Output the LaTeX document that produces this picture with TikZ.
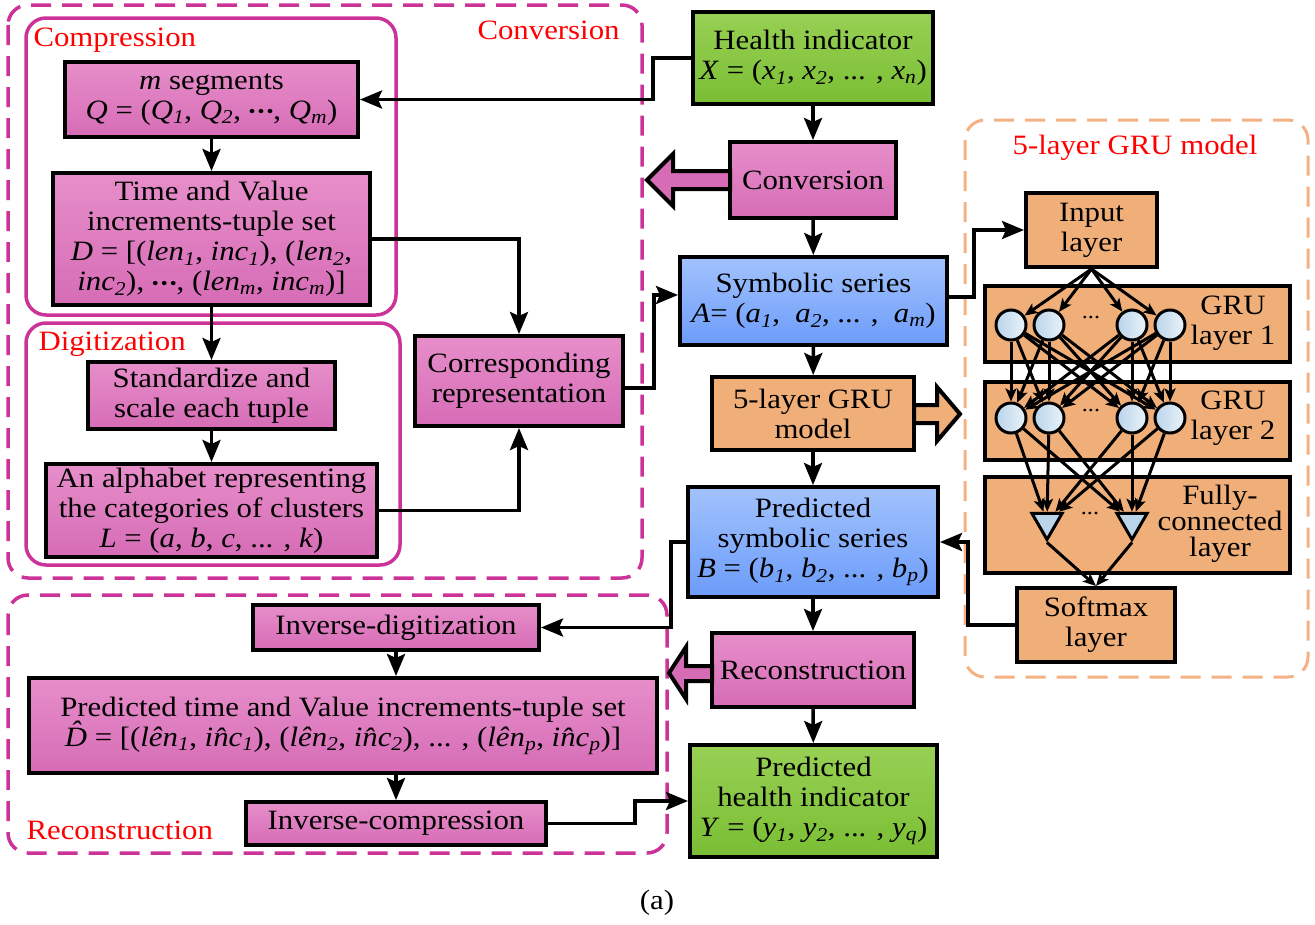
\documentclass[tikz,border=0pt]{standalone}
\usepackage{fontspec}
\setmainfont[FakeStretch=1.1]{Liberation Serif}
\usepackage{tikz}
\usetikzlibrary{arrows.meta}
\usetikzlibrary{shapes.geometric}
\definecolor{magdash}{RGB}{204,51,153}
\definecolor{pinkT}{RGB}{231,142,202}
\definecolor{pinkB}{RGB}{214,108,182}
\definecolor{greenT}{RGB}{152,208,84}
\definecolor{greenB}{RGB}{122,190,52}
\definecolor{blueT}{RGB}{162,194,252}
\definecolor{blueB}{RGB}{108,156,250}
\definecolor{gruorange}{RGB}{240,174,120}
\definecolor{orangedash}{RGB}{244,177,131}
\definecolor{neuronL}{RGB}{186,212,234}
\definecolor{neuronR}{RGB}{234,243,250}
\newcommand{\isub}[2]{\textit{#1}\textsubscript{\textit{#2}}}
\newcommand{\bdots}{\raisebox{0.12ex}{\fontsize{18}{18}\selectfont\textbullet\kern2pt\textbullet\kern2pt\textbullet}}
\newcommand{\hatD}{\ooalign{\textit{D}\cr\hidewidth\raisebox{0.2em}{\textit{\char"02C6}}\hidewidth\cr}}

\begin{document}
\begin{tikzpicture}[x=1pt,y=-1pt,
    every node/.style={font=\fontsize{28}{30}\selectfont},
    box/.style={draw,line width=4pt,align=center,inner sep=0pt},
    pinkbox/.style={box,top color=pinkT,bottom color=pinkB},
    greenbox/.style={box,top color=greenT,bottom color=greenB},
    bluebox/.style={box,top color=blueT,bottom color=blueB},
    orangebox/.style={box,fill=gruorange},
    arr/.style={line width=3.5pt,-{Stealth[length=22pt,width=18pt,inset=4pt]}},
    netarr/.style={line width=3pt,-{Stealth[length=13pt,width=11pt,inset=3pt]}},
    groupdash/.style={magdash,line width=3.5pt,dash pattern=on 20pt off 11pt,rounded corners=20pt},
    groupline/.style={magdash,line width=3.5pt,rounded corners=20pt},
    grouplabel/.style={red,anchor=west},
    neuron/.style={circle,draw,line width=3pt,minimum size=30pt,inner sep=0pt,left color=neuronL,right color=neuronR},
    outnode/.style={regular polygon,regular polygon sides=3,shape border rotate=180,draw,line width=3pt,minimum size=35pt,inner sep=0pt,fill=neuronL},
    fatarrow/.style={draw,line width=4pt,line join=miter}]
    \useasboundingbox (0,0) rectangle (1315,924);
    \draw[groupdash] (8,5) rectangle (642,578);
    \draw[groupdash] (8,595) rectangle (667,853);
    \draw[groupline] (26,18) rectangle (396,315);
    \draw[groupline] (26,323) rectangle (400,565);
    \draw[orangedash,line width=3pt,dash pattern=on 20pt off 11pt,rounded corners=20pt] (965,120) rectangle (1308,677);
    \node[grouplabel] (lconv) at (474,30) {Conversion};
    \node[grouplabel] (lcomp) at (30,40) {Compression};
    \node[grouplabel] (ldig) at (35,344) {Digitization};
    \node[grouplabel] (lrec) at (23,830) {Reconstruction};
    \node[red] (lgru) at (1135,148) {5-layer GRU model};

    \node[pinkbox,minimum width=293pt,minimum height=75pt] (mseg) at (211.5,99.5) {\textit{m} segments\\ \textit{Q} = (\isub{Q}{1}, \isub{Q}{2}, \bdots, \isub{Q}{m})};
    \node[pinkbox,minimum width=317pt,minimum height=132pt] (tvset) at (211.5,239) {Time and Value\\ increments-tuple set\\ \textit{D} = [(\isub{len}{1}, \isub{inc}{1}), (\isub{len}{2},\\ \isub{inc}{2}), \bdots, (\isub{len}{m}, \isub{inc}{m})]};
    \node[pinkbox,minimum width=247pt,minimum height=67pt] (stdz) at (211.5,395.5) {Standardize and\\ scale each tuple};
    \node[pinkbox,minimum width=331pt,minimum height=93pt] (alpha) at (211.5,510.5) {An alphabet representing\\ the categories of clusters\\ \textit{L} = (\textit{a}, \textit{b}, \textit{c}, ... , \textit{k})};
    \node[pinkbox,minimum width=208pt,minimum height=90pt] (corr) at (519,381) {Corresponding\\ representation};

    \node[greenbox,minimum width=240pt,minimum height=92pt] (health) at (813,58) {Health indicator\\ \textit{X} = (\isub{x}{1}, \isub{x}{2}, ... , \isub{x}{n})};
    \node[pinkbox,minimum width=166pt,minimum height=76pt] (conv) at (813,180) {Conversion};
    \node[bluebox,minimum width=267pt,minimum height=88pt] (sym) at (813.5,301) {Symbolic series\\ \textit{A}= (\isub{a}{1},~ \isub{a}{2}, ... ,~ \isub{a}{m})};
    \node[orangebox,minimum width=202pt,minimum height=73pt] (gru) at (813,413.5) {5-layer GRU\\ model};
    \node[bluebox,minimum width=250pt,minimum height=110pt] (psym) at (813,542) {Predicted\\ symbolic series\\ \textit{B} = (\isub{b}{1}, \isub{b}{2}, ... , \isub{b}{p})};
    \node[pinkbox,minimum width=202pt,minimum height=74pt] (recon) at (813,670) {Reconstruction};
    \node[greenbox,minimum width=247pt,minimum height=112pt] (phealth) at (813.5,801) {Predicted\\ health indicator\\ \textit{Y} = (\isub{y}{1}, \isub{y}{2}, ... , \isub{y}{q})};

    \node[pinkbox,minimum width=286pt,minimum height=45pt] (invd) at (396,627.5) {Inverse-digitization};
    \node[pinkbox,minimum width=628pt,minimum height=95pt] (ptset) at (343,725.5) {Predicted time and Value increments-tuple set\\ \hatD{} = [(\isub{l\^{e}n}{1}, \isub{i\^{n}c}{1}), (\isub{l\^{e}n}{2}, \isub{i\^{n}c}{2}), ... , (\isub{l\^{e}n}{p}, \isub{i\^{n}c}{p})]};
    \node[pinkbox,minimum width=300pt,minimum height=43pt] (invc) at (396,823.5) {Inverse-compression};

    \node[orangebox,minimum width=131pt,minimum height=74pt] (input) at (1091.5,230) {Input\\ layer};
    \node[orangebox,minimum width=305pt,minimum height=76pt] (gruA) at (1137.5,324) {};
    \node[orangebox,minimum width=305pt,minimum height=78pt] (gruB) at (1137.5,421) {};
    \node[orangebox,minimum width=305pt,minimum height=96pt] (fcl) at (1137.5,525) {};
    \node[orangebox,minimum width=158pt,minimum height=74pt] (softmax) at (1096,625) {Softmax\\ layer};
    \node[align=center] (tgruA) at (1233,323) {GRU\\ layer 1};
    \node[align=center] (tgruB) at (1233,418) {GRU\\ layer 2};
    \node[align=center,font=\fontsize{28}{26}\selectfont] (tfcl) at (1220,524) {Fully-\\ connected\\ layer};
    \foreach \i/\x in {1/1011,2/1049,3/1132,4/1170} {
        \node[neuron] (a\i) at (\x,325) {};
        \node[neuron] (b\i) at (\x,418) {};
    }
    \node[outnode] (o1) at (1047,522) {};
    \node[outnode] (o2) at (1132,522) {};
    \node[font=\fontsize{22}{22}\selectfont] (dotsA) at (1091,318) {...};
    \node[font=\fontsize{22}{22}\selectfont] (dotsB) at (1091,411) {...};
    \node[font=\fontsize{22}{22}\selectfont] (dotsC) at (1090,514) {...};
    \foreach \i in {1,...,4} {
        \draw[netarr] (input.south) -- (a\i);
        \foreach \j in {1,...,4} \draw[netarr] (a\i) -- (b\j);
        \foreach \j in {1,2} \draw[netarr] (b\i) -- (o\j);
    }
    \foreach \j in {1,2} \draw[netarr] (o\j.south) -- (softmax.north);

    \draw[fatarrow,fill=pinkB] (647,180) -- (673,154) -- (673,171) -- (730,171) -- (730,189) -- (673,189) -- (673,206) -- cycle;
    \draw[fatarrow,fill=pinkB] (669,673) -- (686,647) -- (686,666) -- (712,666) -- (712,681) -- (686,681) -- (686,699) -- cycle;
    \draw[fatarrow,fill=gruorange] (960,414) -- (937,387) -- (937,405) -- (914,405) -- (914,423) -- (937,423) -- (937,441) -- cycle;

    \draw[arr] (health) -- (conv);
    \draw[arr] (conv) -- (sym);
    \draw[arr] (sym) -- (gru);
    \draw[arr] (gru) -- (psym);
    \draw[arr] (psym) -- (recon);
    \draw[arr] (recon) -- (phealth);
    \draw[arr] (health.west) -- ++(-38,0) |- (mseg.east);
    \draw[arr] (mseg) -- (tvset);
    \draw[arr] (tvset) -- (stdz);
    \draw[arr] (stdz) -- (alpha);
    \draw[arr] (tvset.east) -| (corr.north);
    \draw[arr] (alpha.east) -| (corr.south);
    \draw[arr] ([yshift=-7pt]corr.east) -- ++(29,0) |- ([yshift=6pt]sym.west);
    \draw[arr] ([yshift=4pt]sym.east) -- ++(25,0) |- (input.west);
    \draw[arr] (softmax.west) -- ++(-47,0) |- (psym.east);
    \draw[arr] (psym.west) -- ++(-15,0) |- (invd.east);
    \draw[arr] (invd.south) -- (invd.south |- ptset.north);
    \draw[arr] (invc.north |- ptset.south) -- (invc.north);
    \draw[arr] (invc.east) -- ++(87,0) |- (phealth.west);
    \node (cap) at (657,903) {(a)};
\end{tikzpicture}
\end{document}
